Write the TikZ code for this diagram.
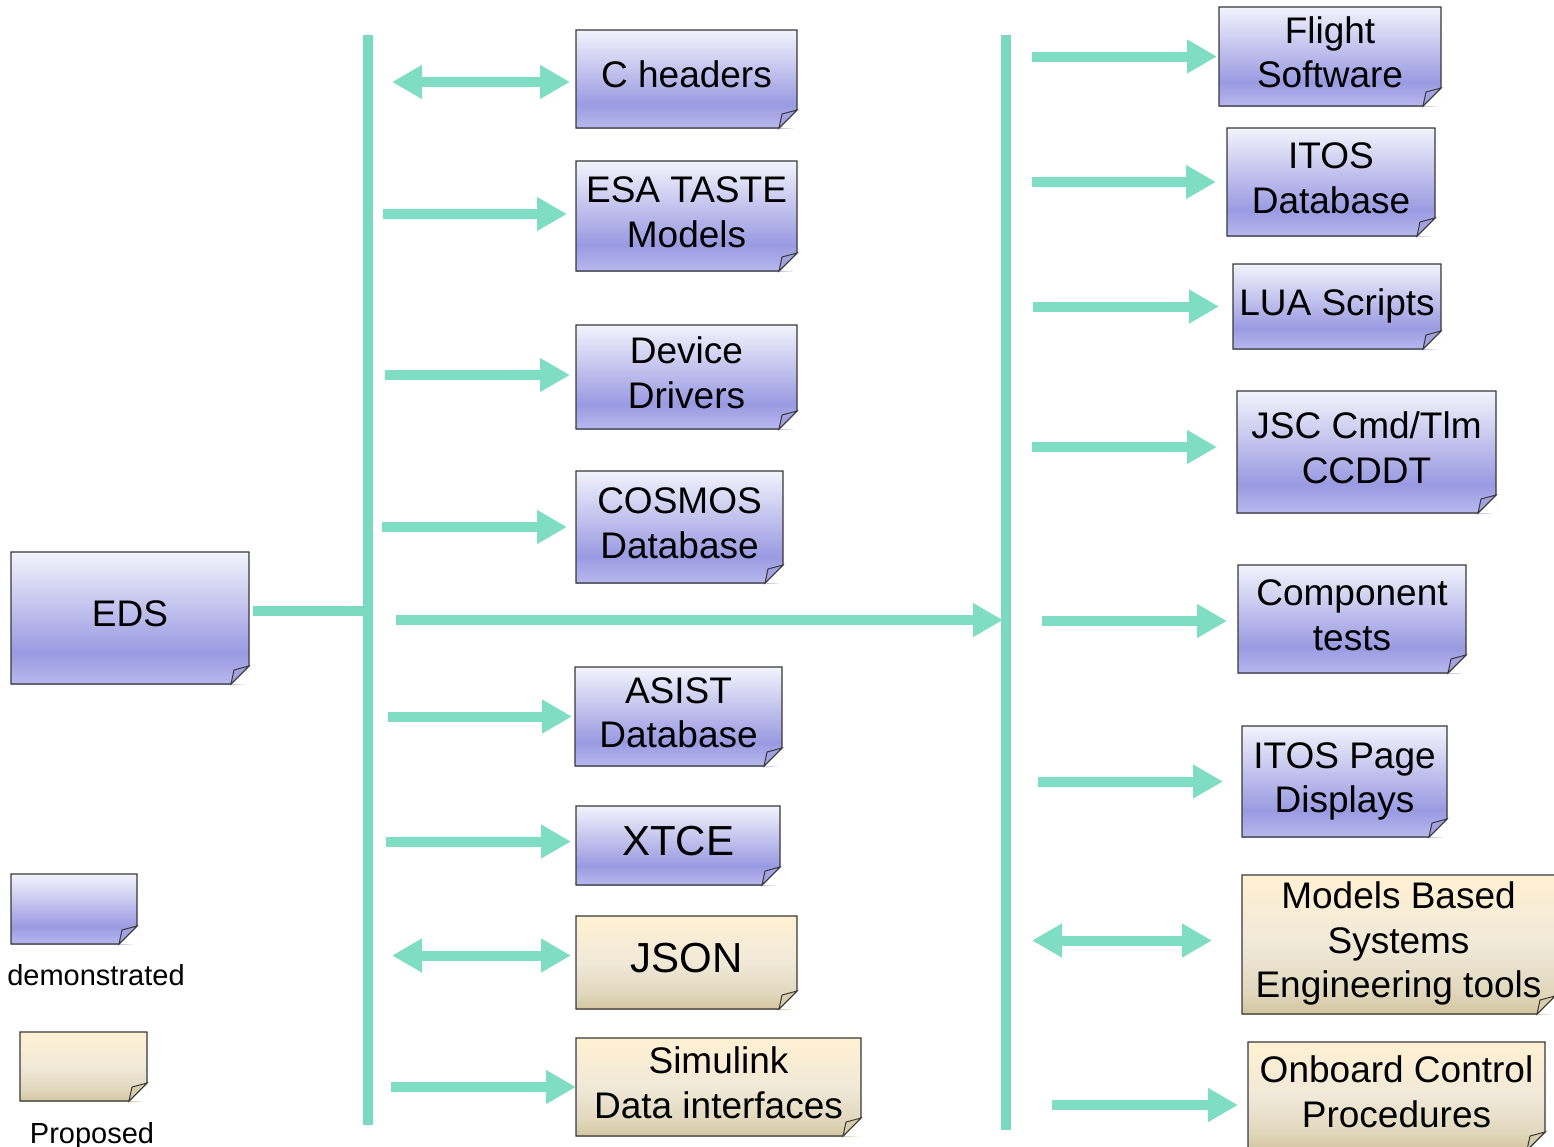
\documentclass[tikz,border=0pt]{standalone}
\usepackage{fontspec}
\setmainfont{Liberation Sans}
\usetikzlibrary{arrows.meta}

\definecolor{busgreen}{HTML}{7AD9C0}
\definecolor{arrowgreen}{HTML}{7FDDC4}
\definecolor{blueA}{HTML}{F3F3FC}
\definecolor{blueB}{HTML}{9A9AE2}
\definecolor{blueC}{HTML}{B8B8EE}
\definecolor{bluefold}{HTML}{A2A2E2}
\definecolor{beigeA}{HTML}{FFF0D2}
\definecolor{beigeB}{HTML}{F0E9D8}
\definecolor{beigeC}{HTML}{E0D7BD}
\definecolor{beigeD}{HTML}{D2C5A0}
\definecolor{beigefold}{HTML}{D8CDAA}
\definecolor{noteline}{HTML}{383838}

\pgfdeclareverticalshading{bluenote}{100bp}{color(0bp)=(blueC); color(25bp)=(blueC); color(37bp)=(blueB); color(75bp)=(blueA); color(100bp)=(blueA)}
\pgfdeclareverticalshading{beigenote}{100bp}{color(0bp)=(beigeD); color(25bp)=(beigeD); color(33bp)=(beigeC); color(50bp)=(beigeB); color(75bp)=(beigeA); color(100bp)=(beigeA)}

\newcommand{\notefont}{\fontsize{37}{44.5}\selectfont}
\newcommand{\bigfont}{\fontsize{42}{50}\selectfont}
% lines of a note, set a little above the middle
\newcommand{\notelines}[2][5pt]{\raisebox{#1}{\begin{tabular}{@{}c@{}}#2\end{tabular}}}

% outline with folded bottom right corner
\newcommand{\notefold}[2]{%
  \fill[white] ([xshift=-18pt]#1.south east) -- ([xshift=1pt,yshift=-1pt]#1.south east) -- ([yshift=18pt]#1.south east) -- cycle;
  \draw[noteline,line width=1.2pt] (#1.north west) -- (#1.north east) -- ([yshift=18pt]#1.south east)
    -- ([xshift=-18pt]#1.south east) -- (#1.south west) -- cycle;
  \filldraw[draw=noteline,line width=1pt,fill=#2] ([yshift=18pt]#1.south east) -- ([xshift=-18pt]#1.south east)
    -- ([xshift=-15pt,yshift=14pt]#1.south east) -- cycle;
}

\begin{document}
\begin{tikzpicture}[x=1pt,y=-1pt,
    note/.style={shading=bluenote,inner sep=0pt,outer sep=0pt,font=\notefont},
    idea/.style={note,shading=beigenote},
    bus/.style={draw=busgreen,line width=10pt},
    flow/.style={draw=arrowgreen,line width=10pt,-{Triangle[length=30pt,width=32pt]}},
    twoway/.style={flow,{Triangle[length=30pt,width=32pt]}-{Triangle[length=30pt,width=32pt]}}]
  \useasboundingbox (0,0) rectangle (1554,1146);

  %% Buses
  \coordinate (lbustop) at (368,35);
  \coordinate (lbusbot) at (368,1125);
  \coordinate (rbustop) at (1006,35);
  \coordinate (rbusbot) at (1006,1130);
  \draw[bus] (lbustop) -- (lbusbot);
  \draw[bus] (rbustop) -- (rbusbot);

  %% Source
  \node[note,minimum width=238pt,minimum height=132pt] (eds) at (130,618) {\notelines[6pt]{EDS}};

  %% Left column
  \node[note,minimum width=221pt,minimum height=98pt] (cheaders) at (686.5,79) {\notelines{C headers}};
  \node[note,minimum width=221pt,minimum height=110pt] (esataste) at (686.5,216) {\notelines{ESA TASTE\\Models}};
  \node[note,minimum width=221pt,minimum height=104pt] (drivers) at (686.5,377) {\notelines{Device\\Drivers}};
  \node[note,minimum width=207pt,minimum height=112pt] (cosmos) at (679.5,527) {\notelines{COSMOS\\Database}};
  \node[note,minimum width=207pt,minimum height=99pt] (asist) at (678.5,716.5) {\notelines{ASIST\\Database}};
  \node[note,minimum width=204pt,minimum height=79pt,font=\bigfont] (xtce) at (678,845.5) {\notelines[0pt]{XTCE}};
  \node[idea,minimum width=221pt,minimum height=93pt,font=\bigfont] (json) at (686.5,962.5) {\notelines[2pt]{JSON}};
  \node[idea,minimum width=285pt,minimum height=98pt] (simulink) at (718.5,1087) {\notelines{Simulink\\Data interfaces}};

  %% Right column
  \node[note,minimum width=222pt,minimum height=99pt] (flight) at (1330,56.5) {\notelines{Flight\\Software}};
  \node[note,minimum width=208pt,minimum height=108pt] (itosdb) at (1331,182) {\notelines{ITOS\\Database}};
  \node[note,minimum width=208pt,minimum height=85pt] (lua) at (1337,306.5) {\notelines{LUA Scripts}};
  \node[note,minimum width=259pt,minimum height=122pt] (jsc) at (1366.5,452) {\notelines{JSC Cmd/Tlm\\CCDDT}};
  \node[note,minimum width=228pt,minimum height=108pt] (comptests) at (1352,619) {\notelines{Component\\tests}};
  \node[note,minimum width=205pt,minimum height=111pt] (itospage) at (1344.5,781.5) {\notelines[3pt]{ITOS Page\\Displays}};
  \node[idea,minimum width=313pt,minimum height=139pt] (mbse) at (1398.5,944.5) {\notelines[3pt]{Models Based\\Systems\\Engineering tools}};
  \node[idea,minimum width=297pt,minimum height=108pt] (obcp) at (1396.5,1096) {\notelines{Onboard Control\\Procedures}};

  %% Legend
  \node[note,minimum width=126pt,minimum height=70pt] (legdemo) at (74,909) {};
  \node[idea,minimum width=127pt,minimum height=69pt] (legprop) at (83.5,1066.5) {};
  \node[font=\fontsize{29}{35}\selectfont] (demolabel) at (96,975) {demonstrated};
  \node[font=\fontsize{29}{35}\selectfont] (proplabel) at (92,1136) {Proposed};

  \foreach \n/\c in {eds/bluefold,cheaders/bluefold,esataste/bluefold,drivers/bluefold,cosmos/bluefold,
      asist/bluefold,xtce/bluefold,json/beigefold,simulink/beigefold,flight/bluefold,itosdb/bluefold,
      lua/bluefold,jsc/bluefold,comptests/bluefold,itospage/bluefold,mbse/beigefold,obcp/beigefold,
      legdemo/bluefold,legprop/beigefold}
    {\notefold{\n}{\c}}

  %% EDS to buses
  \draw[bus] ([xshift=4pt,yshift=7pt]eds.east) -- ([yshift=7pt]lbustop |- eds.east);
  \draw[flow] ([xshift=28pt,yshift=-2pt]lbustop |- eds.east) -- ([xshift=-3pt,yshift=-2pt]rbustop |- eds.east);

  %% Left arrows
  \draw[twoway] ([xshift=24pt,yshift=-3pt]lbustop |- cheaders.west) -- ([xshift=-6pt,yshift=-3pt]cheaders.west);
  \draw[flow] ([xshift=15pt,yshift=2pt]lbustop |- esataste.west) -- ([xshift=-9pt,yshift=2pt]esataste.west);
  \draw[flow] ([xshift=17pt,yshift=2pt]lbustop |- drivers.west) -- ([xshift=-6pt,yshift=2pt]drivers.west);
  \draw[flow] ([xshift=14pt]lbustop |- cosmos.west) -- ([xshift=-9pt]cosmos.west);
  \draw[flow] ([xshift=20pt]lbustop |- asist.west) -- ([xshift=-3pt]asist.west);
  \draw[flow] ([xshift=18pt,yshift=4pt]lbustop |- xtce.west) -- ([xshift=-5pt,yshift=4pt]xtce.west);
  \draw[twoway] ([xshift=24pt,yshift=7pt]lbustop |- json.west) -- ([xshift=-5pt,yshift=7pt]json.west);
  \draw[flow] ([xshift=23pt]lbustop |- simulink.west) -- (simulink.west);

  %% Right arrows
  \draw[flow] ([xshift=26pt]rbustop |- flight.west) -- ([xshift=-2pt]flight.west);
  \draw[flow] ([xshift=26pt]rbustop |- itosdb.west) -- ([xshift=-11pt]itosdb.west);
  \draw[flow] ([xshift=27pt]rbustop |- lua.west) -- ([xshift=-14pt]lua.west);
  \draw[flow] ([xshift=26pt,yshift=5pt]rbustop |- jsc.west) -- ([xshift=-20pt,yshift=5pt]jsc.west);
  \draw[flow] ([xshift=36pt,yshift=-2pt]rbustop |- comptests.west) -- ([xshift=-11pt,yshift=-2pt]comptests.west);
  \draw[flow] ([xshift=32pt]rbustop |- itospage.west) -- ([xshift=-19pt]itospage.west);
  \draw[twoway] ([xshift=26pt,yshift=4pt]rbustop |- mbse.west) -- ([xshift=-30pt,yshift=4pt]mbse.west);
  \draw[flow] ([xshift=46pt,yshift=-9pt]rbustop |- obcp.west) -- ([xshift=-10pt,yshift=-9pt]obcp.west);
\end{tikzpicture}
\end{document}
